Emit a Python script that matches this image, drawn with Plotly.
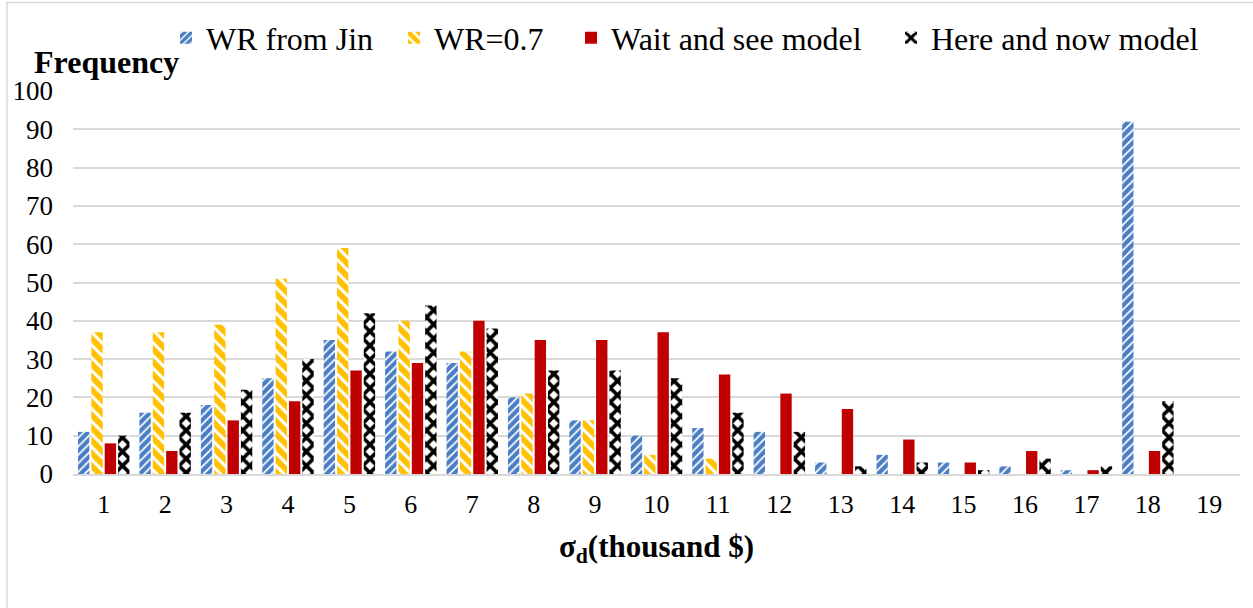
import plotly.graph_objects as go

categories = [str(i) for i in range(1, 20)]
wr_jin = [11, 16, 18, 25, 35, 32, 29, 20, 14, 10, 12, 11, 3, 5, 3, 2, 1, 92, 0]
wr_07 = [37, 37, 39, 51, 59, 40, 32, 21, 14, 5, 4, 0, 0, 0, 0, 0, 0, 0, 0]
wait_see = [8, 6, 14, 19, 27, 29, 40, 35, 35, 37, 26, 21, 17, 9, 3, 6, 1, 6, 0]
here_now = [10, 16, 22, 30, 42, 44, 38, 27, 27, 25, 16, 11, 2, 3, 1, 4, 2, 19, 0]

series_names = ["WR from Jin", "WR=0.7", "Wait and see model", "Here and now model"]

FONT = "Liberation Serif"
W, H = 1253, 608
L, R, T, B = 73, 13, 91, 134
PW = W - L - R
PH = H - T - B


def px_x(p):
    return (p - L) / PW


def px_y(p):
    return (H - B - p) / PH


fig = go.Figure()
fig.add_trace(go.Bar(
    x=categories, y=wr_jin, name=series_names[0], legend="legend",
    marker=dict(color="#4A7EC4", line=dict(width=0),
                pattern=dict(shape="/", fgcolor="#4A7EC4", bgcolor="white",
                             size=6, solidity=0.7, fgopacity=1, fillmode="replace")),
))
fig.add_trace(go.Bar(
    x=categories, y=wr_07, name=series_names[1], legend="legend2",
    marker=dict(color="#FFC000", line=dict(width=0),
                pattern=dict(shape="\\", fgcolor="#FFC000", bgcolor="white",
                             size=9, solidity=0.65, fgopacity=1, fillmode="replace")),
))
fig.add_trace(go.Bar(
    x=categories, y=wait_see, name=series_names[2], legend="legend3",
    marker=dict(color="#C00000", line=dict(width=0)),
))
fig.add_trace(go.Bar(
    x=categories, y=here_now, name=series_names[3], legend="legend4",
    marker=dict(color="black", line=dict(width=0),
                pattern=dict(shape="x", fgcolor="black", bgcolor="white",
                             size=10, solidity=0.6, fgopacity=1, fillmode="replace")),
))

legend_common = dict(orientation="h", yanchor="middle", y=px_y(38), xanchor="left",
                     font=dict(family=FONT, size=32, color="black"),
                     bgcolor="rgba(0,0,0,0)", itemwidth=30)

fig.update_layout(
    width=W, height=H,
    margin=dict(l=L, r=R, t=T, b=B, autoexpand=False),
    paper_bgcolor="white", plot_bgcolor="white",
    barmode="group", bargap=0.13, bargroupgap=0.15,
    showlegend=True,
    font=dict(family=FONT, color="black"),
    legend=dict(legend_common, x=px_x(166)),
    legend2=dict(legend_common, x=px_x(394)),
    legend3=dict(legend_common, x=px_x(571)),
    legend4=dict(legend_common, x=px_x(891)),
    xaxis=dict(
        type="category", showgrid=False, showline=True, linecolor="#D9D9D9", linewidth=2,
        ticks="", tickfont=dict(family=FONT, size=26, color="black"),
        ticklabelstandoff=6,
        title=dict(text="<b>σ<sub>d</sub>(thousand $)</b>",
                   font=dict(family=FONT, size=31, color="black"), standoff=17),
    ),
    yaxis=dict(
        range=[0, 100], dtick=10, showgrid=True, gridcolor="#D9D9D9", gridwidth=1.5,
        zeroline=False, showline=False, ticks="",
        tickfont=dict(family=FONT, size=27, color="black"),
        ticklabelstandoff=19,
    ),
    annotations=[dict(
        text="<b>Frequency</b>", xref="paper", yref="paper",
        x=px_x(32), y=px_y(62), xanchor="left", yanchor="middle", showarrow=False,
        font=dict(family=FONT, size=32, color="black"),
    )],
    shapes=[dict(
        type="rect", xref="paper", yref="paper",
        x0=px_x(7), x1=px_x(1270), y0=px_y(640), y1=px_y(2.5),
        line=dict(color="#D9D9D9", width=1.5), fillcolor="rgba(0,0,0,0)", layer="below",
    )],
)

fig.write_html(
    "out.html",
    config={"displayModeBar": False},
    post_script="document.body.style.margin='0';document.body.style.overflow='hidden';",
)
